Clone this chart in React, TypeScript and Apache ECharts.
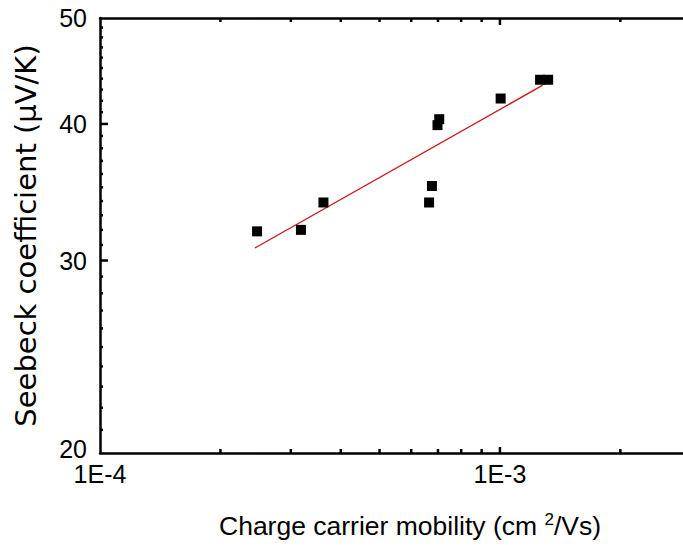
import React, { useEffect, useRef } from 'react';
import * as echarts from 'echarts';

// Measured points (charge carrier mobility in cm^2/Vs, Seebeck coefficient in µV/K)
const mobility = [2.47e-4, 3.18e-4, 3.62e-4, 6.65e-4, 6.76e-4, 6.98e-4, 7.05e-4, 1.004e-3, 1.26e-3, 1.32e-3];
const seebeck = [31.9, 32.0, 33.9, 33.9, 35.1, 39.9, 40.4, 42.2, 43.9, 43.9];

// Power-law fit (straight in log-log)
const fitMobility = [2.44e-4, 1.28e-3];
const fitSeebeck = [30.8, 43.4];

// Axis ticks and labels
const xLabelValues = [1e-4, 1e-3];
const xMajorTicks = [1e-3];
const xMinorTicks = [2e-4, 3e-4, 4e-4, 5e-4, 6e-4, 7e-4, 8e-4, 9e-4, 2e-3, 3e-3];
const yLabelValues = [20, 30, 40, 50];
const yMajorTicks = [30, 40];
const yMinorTicks = [21, 22, 23, 24, 25, 26, 27, 28, 29, 31, 32, 33, 34, 35, 36, 37, 38, 39, 41, 42, 43, 44, 45, 46, 47, 48, 49];

const X_MIN = 1e-4;
const X_MAX = 3.55e-3;
const Y_MIN = 20;
const Y_MAX = 50;
const FONT = 'Liberation Sans';
const TICK_FONT = 25;

export default function App() {
  const ref = useRef<HTMLDivElement>(null);

  useEffect(() => {
    if (!ref.current) return;
    const chart = echarts.init(ref.current, undefined, { renderer: 'svg' });
    const axisLineStyle = { color: '#000', width: 2.5 };
    const hiddenLabel = { show: false };
    const noSplit = { show: false };

    // tick marks: [x, y, side(0 bottom,1 top,2 left), length]
    const tickData: number[][] = [];
    xMajorTicks.forEach((v) => { tickData.push([v, Y_MIN, 0, 6]); tickData.push([v, Y_MAX, 1, 7]); });
    xMinorTicks.forEach((v) => { tickData.push([v, Y_MIN, 0, 4]); tickData.push([v, Y_MAX, 1, 4]); });
    yMajorTicks.forEach((v) => tickData.push([X_MIN, v, 2, 8]));
    yMinorTicks.forEach((v) => tickData.push([X_MIN, v, 2, 3]));

    chart.setOption({
      animation: false,
      backgroundColor: '#fff',
      grid: { left: 100, top: 18, width: 620, height: 435 },
      xAxis: [
        {
          type: 'log',
          min: X_MIN,
          max: X_MAX,
          position: 'bottom',
          splitLine: noSplit,
          axisLine: { show: true, lineStyle: axisLineStyle },
          axisTick: { show: false },
          axisLabel: {
            show: true,
            customValues: xLabelValues,
            color: '#000',
            fontSize: TICK_FONT,
            lineHeight: 25,
            fontFamily: FONT,
            margin: 8,
            formatter: (v: number) => {
              const e = Math.log10(v);
              return Math.abs(e - Math.round(e)) < 1e-6 ? '1E' + Math.round(e) : '';
            },
          },
          name: 'Charge carrier mobility (cm {sup|2}/Vs)',
          nameLocation: 'middle',
          nameGap: 58,
          nameTextStyle: {
            color: '#000',
            fontSize: 26.5,
            fontFamily: FONT,
            rich: { sup: { fontSize: 17, fontFamily: FONT, color: '#000', verticalAlign: 'top', padding: [0, 0, 12, 0] } },
          },
        },
        {
          type: 'log',
          min: X_MIN,
          max: X_MAX,
          position: 'top',
          splitLine: noSplit,
          axisLine: { show: true, lineStyle: axisLineStyle },
          axisTick: { show: false },
          axisLabel: hiddenLabel,
        },
      ],
      yAxis: [
        {
          type: 'log',
          min: Y_MIN,
          max: Y_MAX,
          position: 'left',
          splitLine: noSplit,
          axisLine: { show: true, lineStyle: axisLineStyle },
          axisTick: { show: false },
          axisLabel: {
            show: true,
            customValues: yLabelValues,
            color: '#000',
            fontSize: TICK_FONT,
            fontFamily: FONT,
            margin: 13,
            formatter: (v: number) => {
              const n = Math.round(v);
              return n === Y_MIN ? '{lo|' + n + '}' : String(n);
            },
            rich: {
              lo: { fontSize: TICK_FONT, fontFamily: FONT, color: '#000', padding: [0, 0, 8, 0] },
            },
          },
          name: 'Seebeck coefficient (μV/K)',
          nameLocation: 'middle',
          nameGap: 60,
          nameTextStyle: { color: '#000', fontSize: 29, fontFamily: 'DejaVu Sans' },
        },
        {
          type: 'log',
          min: Y_MIN,
          max: Y_MAX,
          position: 'right',
          splitLine: noSplit,
          axisLine: { show: true, lineStyle: axisLineStyle },
          axisTick: { show: false },
          axisLabel: hiddenLabel,
        },
      ],
      series: [
        {
          type: 'custom',
          xAxisIndex: 0,
          yAxisIndex: 0,
          coordinateSystem: 'cartesian2d',
          clip: false,
          silent: true,
          data: tickData,
          renderItem: (params: any, api: any) => {
            const p = api.coord([api.value(0), api.value(1)]);
            const side = api.value(2);
            const len = api.value(3);
            let x2 = p[0];
            let y2 = p[1];
            if (side === 0) y2 = p[1] - len;
            else if (side === 1) y2 = p[1] + len;
            else x2 = p[0] + len;
            return {
              type: 'line',
              shape: { x1: p[0], y1: p[1], x2, y2 },
              style: { stroke: '#000', lineWidth: 2.5 },
            };
          },
          z: 1,
        },
        {
          type: 'line',
          xAxisIndex: 0,
          yAxisIndex: 0,
          data: fitMobility.map((x, i) => [x, fitSeebeck[i]]),
          showSymbol: false,
          symbol: 'none',
          lineStyle: { color: '#c81a1a', width: 1.4 },
          z: 2,
        },
        {
          type: 'scatter',
          xAxisIndex: 0,
          yAxisIndex: 0,
          data: mobility.map((x, i) => [x, seebeck[i]]),
          symbol: 'rect',
          symbolSize: 10,
          itemStyle: { color: '#000', opacity: 1 },
          z: 3,
        },
      ],
    });
    return () => chart.dispose();
  }, []);

  return (
    <div style={{ position: 'fixed', left: 0, top: 0, width: 683, height: 554, overflow: 'hidden', background: '#fff' }}>
      <div ref={ref} style={{ width: 800, height: 554 }} />
    </div>
  );
}
